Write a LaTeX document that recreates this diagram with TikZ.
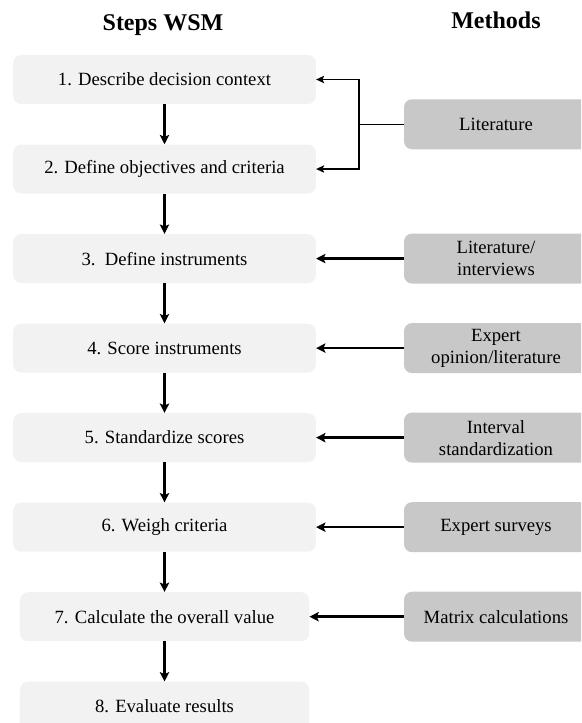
\documentclass[tikz,border=0pt]{standalone}
\usepackage{fontspec}
\setmainfont{Liberation Serif}
\usepackage{xcolor}
\usetikzlibrary{arrows.meta, positioning, calc}
\definecolor{stepfill}{HTML}{F2F2F2}
\definecolor{methodfill}{HTML}{C8C8C8}

\begin{document}
\begin{tikzpicture}[
        x=0.75pt, y=-0.75pt,
        node distance=30pt,
        title/.style={font=\fontsize{18}{20}\selectfont\bfseries},
        stepbox/.style={rectangle, fill=stepfill, rounded corners=6pt, minimum width=227pt, minimum height=36.75pt, align=center, font=\fontsize{14}{16.5}\selectfont},
        methodbox/.style={rectangle, fill=methodfill, rounded corners=6pt, minimum width=138pt, minimum height=37.5pt, align=center, font=\fontsize{14}{16.5}\selectfont},
        arrow/.style={-{Stealth[length=7pt, width=7pt, inset=1.5pt]}, line width=1.9pt},
        thinarrow/.style={-{Stealth[length=6pt, width=5.5pt, inset=1.2pt]}, line width=1pt}
    ]
        \useasboundingbox (0,0) rectangle (581,723);
        \clip (0,0) rectangle (581,723);
        % column headings
        \node[title] (hsteps) at (163,25) {Steps WSM};
        \node[title] (hmethods) at (496,20) {Methods};
        % WSM steps
        \node[stepbox] (s1) at (164.5,79.5) {1. Describe decision context};
        \node[stepbox, below=of s1] (s2) {2. Define objectives and criteria};
        \node[stepbox, below=of s2] (s3) {3.\ \ Define instruments};
        \node[stepbox, below=of s3] (s4) {4. Score instruments};
        \node[stepbox, below=of s4] (s5) {5. Standardize scores};
        \node[stepbox, below=of s5] (s6) {6. Weigh criteria};
        \node[stepbox, minimum width=217pt, below=of s6] (s7) {7. Calculate the overall value};
        \node[stepbox, minimum width=217pt, below=of s7] (s8) {8. Evaluate results};
        % methods
        \coordinate (mx) at (496,0);
        \coordinate (bx) at (359,0);
        \path ($(s1)!0.5!(s2)$) coordinate (s12);
        \node[methodbox] (m1) at (s12 -| mx) {Literature};
        \node[methodbox] (m2) at (s3 -| mx) {Literature/\\interviews};
        \node[methodbox] (m3) at (s4 -| mx) {Expert\\opinion/literature};
        \node[methodbox] (m4) at (s5 -| mx) {Interval\\standardization};
        \node[methodbox] (m5) at (s6 -| mx) {Expert surveys};
        \node[methodbox] (m6) at (s7 -| mx) {Matrix calculations};
        % step flow
        \draw[arrow] (s1) -- (s2);
        \draw[arrow] (s2) -- (s3);
        \draw[arrow] (s3) -- (s4);
        \draw[arrow] (s4) -- (s5);
        \draw[arrow] (s5) -- (s6);
        \draw[arrow] (s6) -- (s7);
        \draw[arrow] (s7) -- (s8);
        % literature bracket
        \draw[line width=1pt] (m1.west) -- (m1.west -| bx);
        \draw[thinarrow] (m1.west -| bx) |- (s1.east);
        \draw[thinarrow] (m1.west -| bx) |- (s2.east);
        % methods to steps
        \draw[arrow] (m2) -- (s3);
        \draw[arrow] (m3) -- (s4);
        \draw[arrow] (m4) -- (s5);
        \draw[arrow] (m5) -- (s6);
        \draw[arrow] (m6) -- (s7);
\end{tikzpicture}
\end{document}
